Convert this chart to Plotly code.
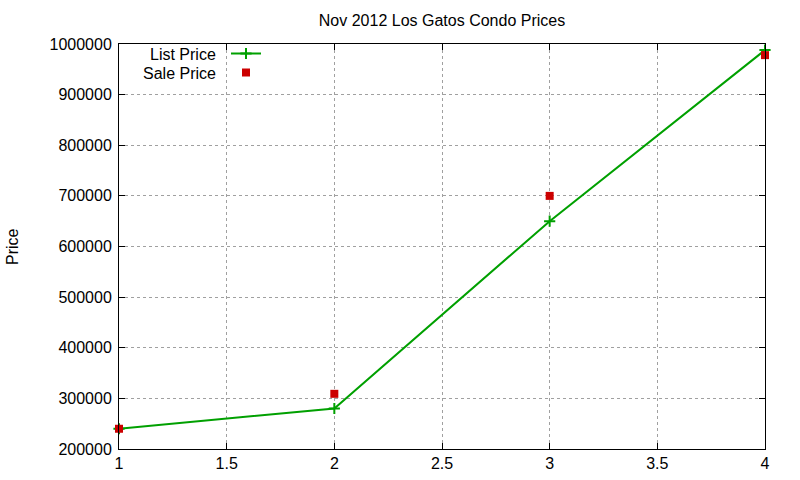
import plotly.graph_objects as go

# bedrooms on x, prices on y
bedrooms = [1, 2, 3, 4]
list_price = [240000, 280000, 650000, 988000]
sale_price = [240000, 309000, 700000, 978000]
series_names = ['List Price', 'Sale Price']

fig = go.Figure()

fig.add_trace(go.Scatter(
    x=bedrooms, y=list_price, name='', mode='lines+markers',
    line=dict(color='#00a000', width=2),
    marker=dict(symbol='cross-thin', size=8, line=dict(color='#00a000', width=2)),
    cliponaxis=False,
))
fig.add_trace(go.Scatter(
    x=bedrooms, y=sale_price, name='', mode='markers',
    marker=dict(symbol='square', size=8, color='#cc0000'),
    cliponaxis=False,
))

# gnuplot style legend: text on the left, sample on the right
for i, label in enumerate(series_names):
    fig.add_annotation(text=label, xref='paper', yref='paper', x=(218 - 119) / 646,
                       y=1 - (11 + i * 18) / 405, xanchor='right', yanchor='middle',
                       showarrow=False, font=dict(size=16))

fig.add_annotation(text='Price', xref='paper', yref='paper', x=(12 - 119) / 646,
                   y=1 - (247 - 44) / 405, xanchor='center', yanchor='middle',
                   textangle=-90, showarrow=False, font=dict(size=16))

fig.update_layout(
    width=800, height=480,
    margin=dict(l=119, r=35, t=44, b=31),
    plot_bgcolor='white', paper_bgcolor='white',
    font=dict(family='Liberation Sans', size=16, color='black'),
    title=dict(text='Nov 2012 Los Gatos Condo Prices', x=0.5, xref='paper',
               y=1 - 20 / 480, yanchor='middle', font=dict(size=16)),
    showlegend=True,
    legend=dict(x=(226 - 119) / 646, y=1 + 5 / 405, xanchor='left', yanchor='top',
                bgcolor='rgba(0,0,0,0)', tracegroupgap=0, itemwidth=30,
                font=dict(size=12)),
)

fig.update_xaxes(range=[1, 4], dtick=0.5, showgrid=True, gridcolor='#a0a0a0',
                 griddash='dot', gridwidth=1, showline=True, linecolor='black',
                 linewidth=1, mirror='ticks', ticks='inside', ticklen=6,
                 tickcolor='black', zeroline=False, automargin=False)
fig.update_yaxes(range=[200000, 1000000], dtick=100000, tickformat='d',
                 showgrid=True, gridcolor='#a0a0a0', griddash='dot', gridwidth=1,
                 showline=True, linecolor='black', linewidth=1, mirror='ticks',
                 ticks='inside', ticklen=6, tickcolor='black', zeroline=False,
                 ticklabelstandoff=3, automargin=False)

# drop the default body margin so the figure fills the window exactly
fig.write_html('out.html', config={'displayModeBar': False},
               post_script="document.body.style.margin='0';")
